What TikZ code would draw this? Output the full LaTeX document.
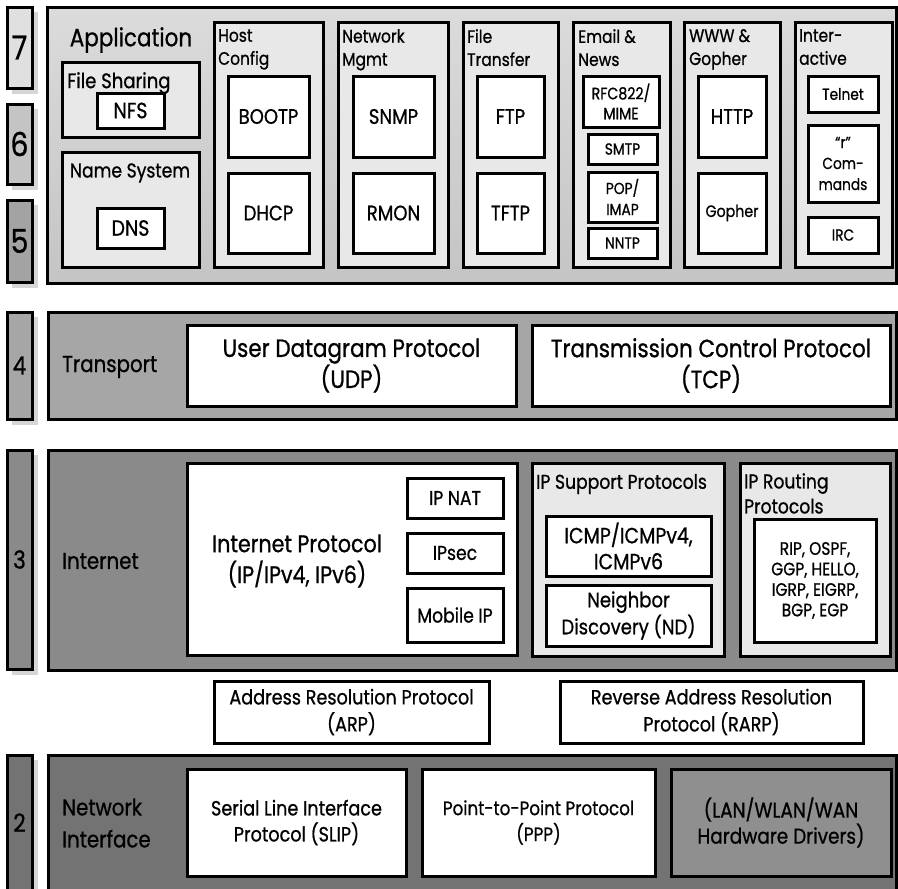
\documentclass[tikz,border=0pt]{standalone}
\usepackage{fontspec}
\setmainfont{Poppins}[FakeStretch=0.86, FakeBold=0.8]
\definecolor{cseven}{gray}{0.88}
\definecolor{csix}{gray}{0.77}
\definecolor{cfive}{gray}{0.64}
\definecolor{cfour}{gray}{0.65}
\definecolor{cthree}{gray}{0.54}
\definecolor{ctwo}{gray}{0.45}
\definecolor{grpfill}{gray}{0.91}
\definecolor{apptop}{gray}{0.86}
\definecolor{appbot}{gray}{0.77}
\definecolor{lanfill}{gray}{0.56}
\definecolor{shad}{gray}{0.84}
\newcommand\fss[2]{\fontsize{#1}{#2}\selectfont}
\newcommand\bx[7]{\node[#6, minimum width={(#4)-(#2)}, minimum height={(#5)-(#3)}] (#1) at ({((#2)+(#4))/2},{((#3)+(#5))/2}) {#7};}
\newcommand\numbox[6]{\fill[shad] ({(#2)+5},{(#3)+5}) rectangle ({(#4)+6},{(#5)+6});
  \bx{#1}{#2}{#3}{#4}{#5}{bd, fill=#6}{}}
\tikzset{
  bd/.style={draw=black, line width=3pt, inner sep=0pt, align=center},
  leaf/.style={bd, fill=white},
  grp/.style={bd, fill=grpfill},
  ttl/.style={inner sep=0pt, align=left, anchor=west},
  coltitle/.style={inner sep=0pt, align=left, anchor=north west, font=\fss{18}{23}},
}
\begin{document}
\begin{tikzpicture}[x=1pt,y=-1pt]
\useasboundingbox (0,0) rectangle (898,889);
% ---------- layer numbers ----------
\numbox{n7}{7}{7}{32}{88}{cseven}
\numbox{n6}{7}{104}{32}{184}{csix}
\numbox{n5}{7}{200}{32}{282}{cfive}
\numbox{n4}{7}{312}{32}{419}{cfour}
\numbox{n3}{7}{450}{32}{669}{cthree}
\numbox{n2}{7}{755}{32}{890}{ctwo}
\node[font=\fss{33}{36}] (l7) at (n7) {7};
\node[font=\fss{33}{36}] (l6) at (n6) {6};
\node[font=\fss{33}{36}] (l5) at (n5) {5};
\node[font=\fss{25}{30}] (l4) at (n4) {4};
\node[font=\fss{25}{30}] (l3) at (n3) {3};
\node[font=\fss{25}{30}] (l2) at (n2) {2};
% ---------- application ----------
\bx{app}{47}{7}{896}{283}{bd, top color=apptop, bottom color=appbot}{}
\node[font=\fss{25}{30}] (tapp) at (131,40) {Application};
\bx{fsh}{62}{62}{199}{137}{grp}{}
\node[ttl, font=\fss{21}{25}] (tfsh) at (67,83) {File Sharing};
\bx{nfs}{97}{93}{164}{128}{leaf, font=\fss{22}{26}}{NFS}
\bx{nsy}{62}{152}{199}{267}{grp}{}
\node[font=\fss{20}{24}] (tnsy) at (130,173) {Name System};
\bx{dns}{97}{208}{164}{248}{leaf, font=\fss{22}{26}}{DNS}
% columns
\bx{hc}{214}{22}{323}{267}{grp}{}
\node[coltitle] (thc) at (218,29) {Host\\Config};
\bx{bootp}{228}{76}{309}{157}{leaf, font=\fss{21}{25}}{BOOTP}
\bx{dhcp}{228}{173}{309}{253}{leaf, font=\fss{21}{25}}{DHCP}
\bx{nm}{338}{22}{448}{267}{grp}{}
\node[coltitle] (tnm) at (342,29) {Network\\Mgmt};
\bx{snmp}{353}{76}{434}{157}{leaf, font=\fss{21}{25}}{SNMP}
\bx{rmon}{353}{173}{434}{253}{leaf, font=\fss{21}{25}}{RMON}
\bx{ftr}{463}{22}{558}{267}{grp}{}
\node[coltitle] (tftr) at (467,29) {File\\Transfer};
\bx{ftp}{477}{76}{544}{157}{leaf, font=\fss{21}{25}}{FTP}
\bx{tftp}{477}{173}{544}{253}{leaf, font=\fss{21}{25}}{TFTP}
\bx{em}{573}{22}{670}{267}{grp}{}
\node[coltitle] (tem) at (578,29) {Email \&\\News};
\bx{rfc}{583}{76}{659}{127}{leaf, font=\fss{16.5}{20}}{RFC822/\\MIME}
\bx{smtp}{588}{134}{657}{164}{leaf, font=\fss{16}{20}}{SMTP}
\bx{pop}{588}{172}{657}{222}{leaf, font=\fss{16}{21}}{POP/\\IMAP}
\bx{nntp}{588}{228}{657}{258}{leaf, font=\fss{16}{20}}{NNTP}
\bx{www}{684}{22}{780}{267}{grp}{}
\node[coltitle] (twww) at (689,29) {WWW \&\\Gopher};
\bx{http}{698}{76}{766}{157}{leaf, font=\fss{21}{25}}{HTTP}
\bx{goph}{698}{173}{766}{253}{leaf, font=\fss{16.5}{20}}{Gopher}
\bx{ia}{795}{22}{892}{267}{grp}{}
\node[coltitle] (tia) at (799,29) {Inter-\\active};
\bx{telnet}{808}{76}{878}{112}{leaf, font=\fss{16}{20}}{Telnet}
\bx{rcmd}{808}{125}{878}{202}{leaf, font=\fss{16}{21}}{“r”\\Com-\\mands}
\bx{irc}{808}{217}{878}{253}{leaf, font=\fss{16}{20}}{IRC}
% ---------- transport ----------
\bx{tr}{48}{312}{896}{419}{bd, fill=cfour}{}
\node[ttl, font=\fss{23}{28}] (ttr) at (62,367) {Transport};
\bx{udp}{187}{325}{516}{406}{leaf, font=\fss{25}{31}}{User Datagram Protocol\\(UDP)}
\bx{tcp}{532}{325}{890}{406}{leaf, font=\fss{25}{31}}{Transmission Control Protocol\\(TCP)}
% ---------- internet ----------
\bx{inet}{48}{450}{896}{670}{bd, fill=cthree}{}
\node[ttl, font=\fss{23}{28}] (tinet) at (62,561) {Internet};
\bx{ip}{187}{463}{517}{655}{leaf}{}
\node[font=\fss{24}{31}, align=center] (tip) at (297,561) {Internet Protocol\\(IP/IPv4, IPv6)};
\bx{ipnat}{407}{478}{503}{518}{leaf, font=\fss{20}{24}}{IP NAT}
\bx{ipsec}{407}{533}{503}{573}{leaf, font=\fss{20}{24}}{IPsec}
\bx{mobip}{407}{588}{503}{642}{leaf, font=\fss{20}{24}}{Mobile IP}
\bx{sup}{532}{463}{724}{656}{grp}{}
\node[ttl, font=\fss{20}{24}] (tsup) at (536,484) {IP Support Protocols};
\bx{icmp}{546}{516}{711}{576}{leaf, font=\fss{22}{26}}{ICMP/ICMPv4,\\ICMPv6}
\bx{nd}{546}{585}{711}{646}{leaf, font=\fss{21}{27}}{Neighbor\\Discovery (ND)}
\bx{rout}{740}{463}{890}{656}{grp}{}
\node[ttl, font=\fss{20}{25}, anchor=north west] (trout) at (744,473) {IP Routing\\Protocols};
\bx{rtp}{754}{519}{876}{642}{leaf, font=\fss{18}{20.5}}{RIP, OSPF,\\GGP, HELLO,\\IGRP, EIGRP,\\BGP, EGP}
% ---------- ARP / RARP ----------
\bx{arp}{214}{681}{489}{743}{leaf, font=\fss{20.5}{27}}{Address Resolution Protocol\\(ARP)}
\bx{rarp}{560}{681}{863}{743}{leaf, font=\fss{20.5}{27}}{Reverse Address Resolution\\Protocol (RARP)}
% ---------- network interface ----------
\bx{ni}{48}{755}{896}{890}{bd, fill=ctwo}{}
\node[ttl, font=\fss{23}{32}] (tni) at (62,823) {Network\\Interface};
\bx{slip}{187}{769}{406}{876}{leaf, font=\fss{20.5}{26}}{Serial Line Interface\\Protocol (SLIP)}
\bx{ppp}{422}{769}{655}{876}{leaf, font=\fss{19.5}{26}}{Point-to-Point Protocol\\(PPP)}
\bx{lan}{671}{769}{891}{876}{bd, fill=lanfill, font=\fss{21.5}{26}}{(LAN/WLAN/WAN\\Hardware Drivers)}
\end{tikzpicture}
\end{document}
